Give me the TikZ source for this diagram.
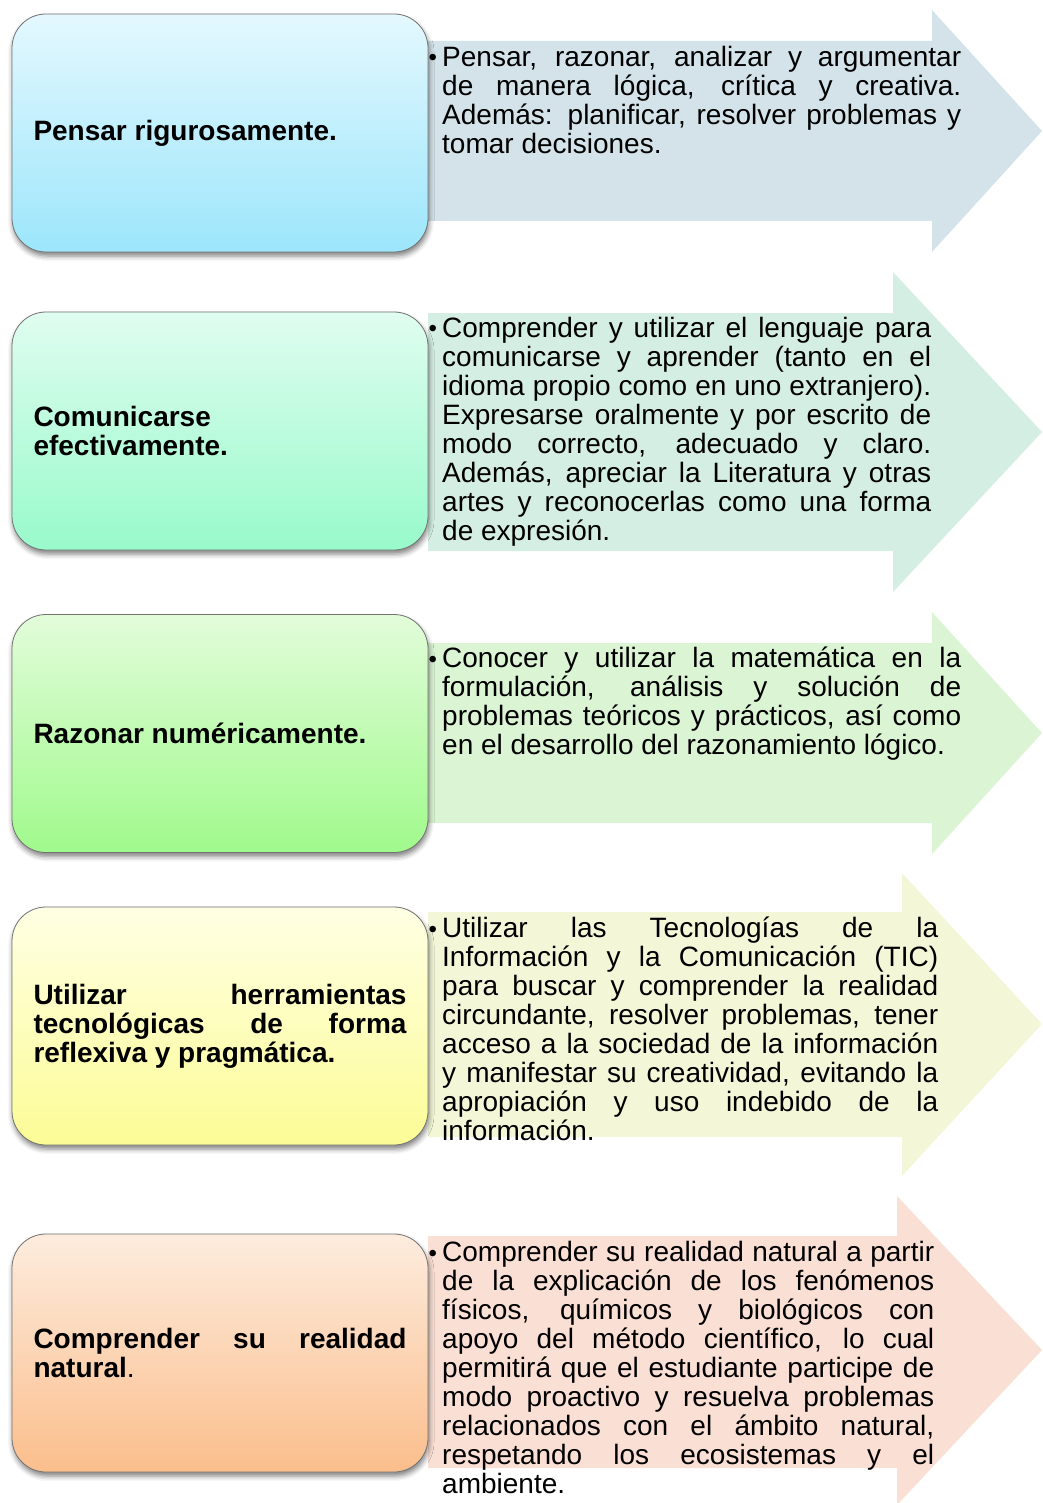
\documentclass[tikz,border=0pt]{standalone}
\usepackage{fontspec}
\setmainfont{Liberation Sans}
\usetikzlibrary{positioning,shadows.blur}
\definecolor{celesteA}{RGB}{228,248,254}
\definecolor{celesteB}{RGB}{156,230,251}
\definecolor{celesteF}{RGB}{211,227,233}
\definecolor{mentaA}{RGB}{224,253,240}
\definecolor{mentaB}{RGB}{152,250,203}
\definecolor{mentaF}{RGB}{213,238,227}
\definecolor{verdeA}{RGB}{226,252,218}
\definecolor{verdeB}{RGB}{160,250,140}
\definecolor{verdeF}{RGB}{219,244,212}
\definecolor{amarilloA}{RGB}{255,255,228}
\definecolor{amarilloB}{RGB}{252,252,150}
\definecolor{amarilloF}{RGB}{243,247,215}
\definecolor{salmonA}{RGB}{253,236,222}
\definecolor{salmonB}{RGB}{251,190,140}
\definecolor{salmonF}{RGB}{250,223,212}
\tikzset{
  compbox/.style={rectangle, draw=black!55, line width=0.8pt, rounded corners=34pt,
                  minimum width=416pt, minimum height=238pt, text width=373pt,
                  align=justify, font=\fontsize{28}{29}\selectfont\bfseries,
                  blur shadow={shadow xshift=1pt, shadow yshift=-4pt,
                               shadow blur radius=5pt, shadow opacity=50}},
  desc/.style={anchor=north west, inner sep=0pt, align=justify,
               font=\fontsize{28}{29}\selectfont},
}
\newcommand{\vineta}[1]{\hangindent=14pt\hangafter=1\noindent
  \makebox[14pt][l]{\hspace{0.5pt}\raisebox{0.5pt}{\fontsize{24}{24}\selectfont\textbullet}}#1\par}

\begin{document}
\begin{tikzpicture}[x=1pt, y=-1pt]
  \useasboundingbox (0,0) rectangle (1042,1503);
  % flechas de fondo
  \fill[celesteF] (428,41) -- (932,41) -- (932,10) -- (1042,131) -- (932,252) -- (932,221) -- (428,221) -- cycle;
  \fill[mentaF] (428,313) -- (893,313) -- (893,272) -- (1042,432) -- (893,592) -- (893,551) -- (428,551) -- cycle;
  \fill[verdeF] (428,643) -- (932,643) -- (932,612) -- (1042,733) -- (932,854) -- (932,823) -- (428,823) -- cycle;
  \fill[amarilloF] (428,912) -- (902,912) -- (902,873) -- (1042,1024) -- (902,1176) -- (902,1137) -- (428,1137) -- cycle;
  \fill[salmonF] (428,1236) -- (897,1236) -- (897,1196) -- (1042,1350) -- (897,1505) -- (897,1468) -- (428,1468) -- cycle;

  % competencias
  \node[compbox, top color=celesteA, bottom color=celesteB] (b1) at (220,133) {Pensar rigurosamente.};
  \node[compbox, top color=mentaA, bottom color=mentaB] (b2) at (220,431) {Comunicarse\newline efectivamente.};
  \node[compbox, top color=verdeA, bottom color=verdeB] (b3) at (220,733.5) {Razonar numéricamente.};
  \node[compbox, top color=amarilloA, bottom color=amarilloB] (b4) at (220,1026)
    {Utilizar herramientas\linebreak tecnológicas de forma\linebreak reflexiva y pragmática.};
  \node[compbox, top color=salmonA, bottom color=salmonB] (b5) at (220,1353)
    {Comprender su realidad\linebreak natural\mdseries.};

  % descripciones
  \node[desc, text width=533pt] (d1) at (428,46) {\vineta{Pensar, razonar, analizar y argumentar\linebreak
    de manera lógica, crítica y creativa.\linebreak Además: planificar, resolver problemas y\linebreak
    tomar decisiones.}};
  \node[desc, text width=503pt] (d2) at (428,317) {\vineta{Comprender y utilizar el lenguaje para\linebreak
    comunicarse y aprender (tanto en el\linebreak idioma propio como en uno extranjero).\linebreak
    Expresarse oralmente y por escrito de\linebreak modo correcto, adecuado y claro.\linebreak
    Además, apreciar la Literatura y otras\linebreak artes y reconocerlas como una forma\linebreak
    de expresión.}};
  \node[desc, text width=533pt] (d3) at (428,647) {\vineta{Conocer y utilizar la matemática en la\linebreak
    formulación, análisis y solución de\linebreak problemas teóricos y prácticos, así como\linebreak
    en el desarrollo del razonamiento lógico.}};
  \node[desc, text width=510pt] (d4) at (428,917) {\vineta{Utilizar las Tecnologías de la\linebreak
    Información y la Comunicación (TIC)\linebreak para buscar y comprender la realidad\linebreak
    circundante, resolver problemas, tener\linebreak acceso a la sociedad de la información\linebreak
    y manifestar su creatividad, evitando la\linebreak apropiación y uso indebido de la\linebreak
    información.}};
  \node[desc, text width=506pt] (d5) at (428,1241) {\vineta{Comprender su realidad natural a partir\linebreak
    de la explicación de los fenómenos\linebreak físicos, químicos y biológicos con\linebreak
    apoyo del método científico, lo cual\linebreak permitirá que el estudiante participe de\linebreak
    modo proactivo y resuelva problemas\linebreak relacionados con el ámbito natural,\linebreak
    respetando los ecosistemas y el\linebreak ambiente.}};
\end{tikzpicture}
\end{document}
